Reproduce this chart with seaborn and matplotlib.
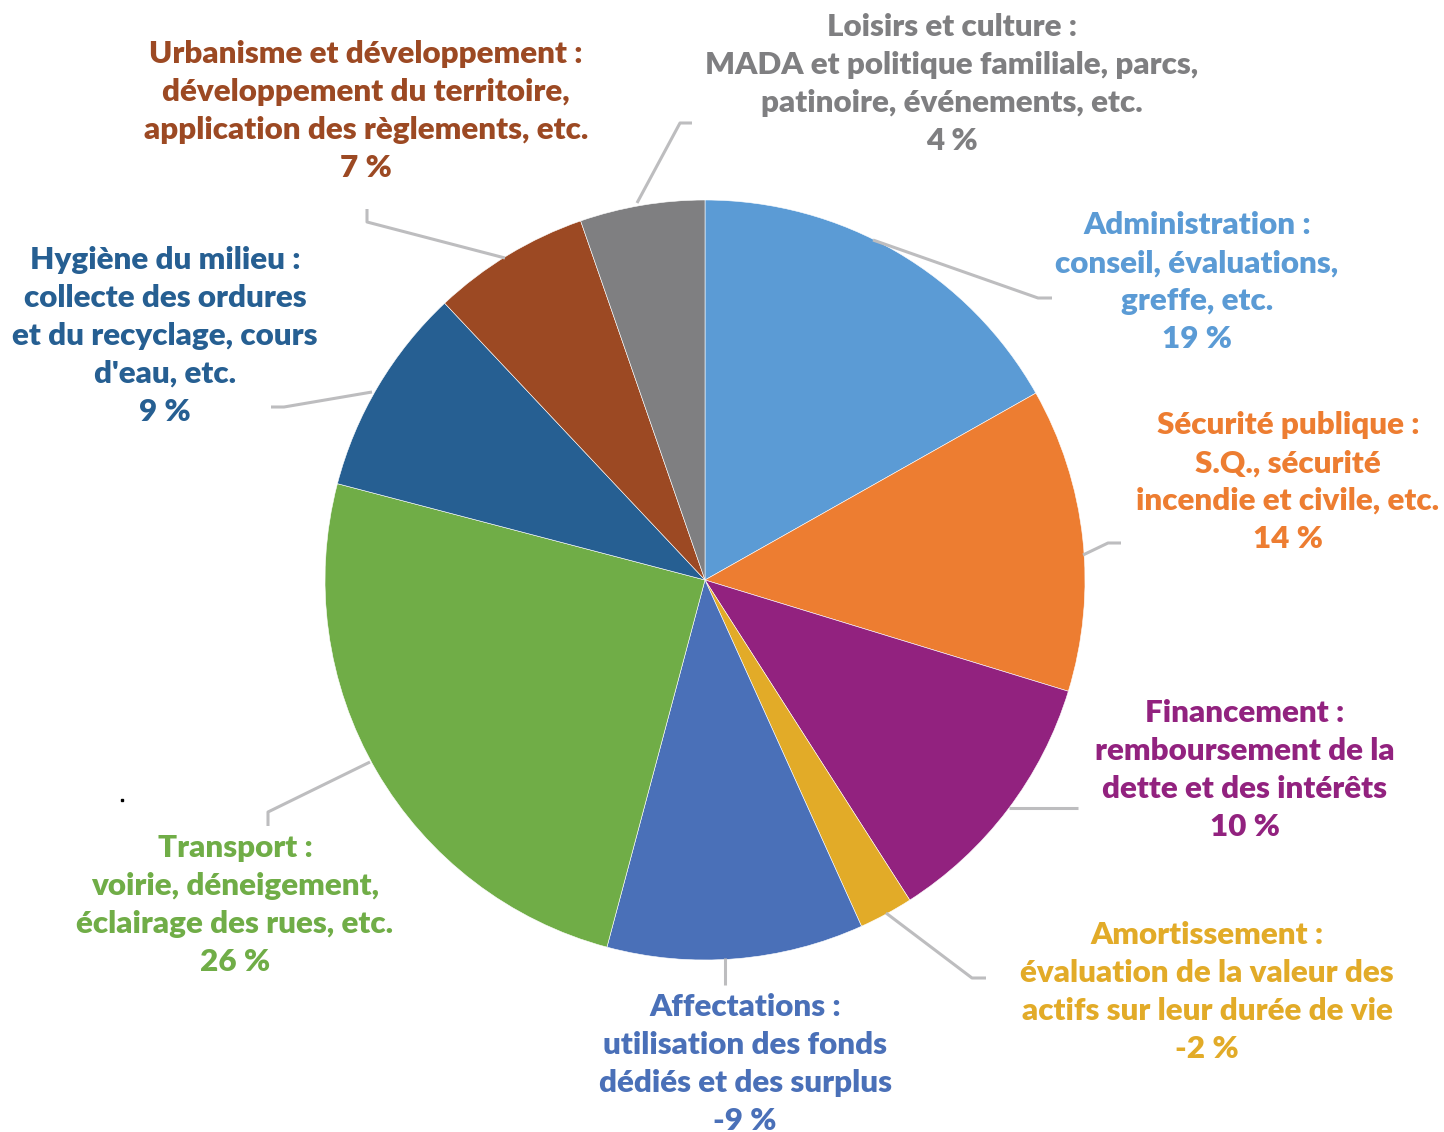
import matplotlib
matplotlib.use("Agg")
import matplotlib.pyplot as plt
import seaborn as sns

# ---- data ----
categories = ["Administration", "Sécurité publique", "Financement", "Amortissement",
              "Affectations", "Transport", "Hygiène du milieu",
              "Urbanisme et développement", "Loisirs et culture"]
slice_sizes = [16.8, 12.9, 11.2, 2.3, 10.9, 24.9, 8.9, 6.7, 5.3]
label_pcts = ["19 %", "14 %", "10 %", "-2 %", "-9 %", "26 %", "9 %", "7 %", "4 %"]
descriptions = [
    "Administration :\nconseil, évaluations,\ngreffe, etc.",
    "Sécurité publique :\nS.Q., sécurité\nincendie et civile, etc.",
    "Financement :\nremboursement de la\ndette et des intérêts",
    "Amortissement :\névaluation de la valeur des\nactifs sur leur durée de vie",
    "Affectations :\nutilisation des fonds\ndédiés et des surplus",
    "Transport :\nvoirie, déneigement,\néclairage des rues, etc.",
    "Hygiène du milieu :\ncollecte des ordures\net du recyclage, cours\nd'eau, etc.",
    "Urbanisme et développement :\ndéveloppement du territoire,\napplication des règlements, etc.",
    "Loisirs et culture :\nMADA et politique familiale, parcs,\npatinoire, événements, etc.",
]
colors = ["#5b9bd5", "#ed7d31", "#92227f", "#e2ab28", "#4a70b8",
          "#70ad47", "#265f92", "#9c4923", "#7f7f81"]
text_colors = ["#5b9bd5", "#ed7d31", "#92227f", "#e2ab28", "#4a70b8",
               "#70ad47", "#265f92", "#9c4923", "#7f7f81"]

# ---- layout (pixels in a 1444x1132 canvas) ----
W, H = 1444, 1132
CX, CY, R = 705, 580, 380

def px(x, y):
    return (x - CX) / R, (CY - y) / R

label_pos = [(1197, 282), (1288, 482), (1245, 770), (1207, 992), (745, 1064),
             (235, 905), (165, 336), (366, 111), (952, 84)]
leaders = [
    [(873, 240), (1038, 298), (1052, 298)],
    [(1083, 555), (1108, 543), (1121, 543)],
    [(1009, 808), (1078, 808)],
    [(886, 913), (972, 978), (986, 978)],
    [(725, 958), (725, 985)],
    [(370, 762), (268, 812), (268, 826)],
    [(372, 392), (284, 407), (271, 407)],
    [(505, 258), (367, 222), (367, 209)],
    [(637, 203), (680, 123), (692, 123)],
]

sns.set_theme(style="white")
plt.rcParams["font.family"] = ["Lato", "DejaVu Sans"]

fig = plt.figure(figsize=(W / 100, H / 100), dpi=100)
ax = fig.add_axes([0, 0, 1, 1])

ax.pie(slice_sizes, colors=colors, startangle=90, counterclock=False, radius=1.0,
       center=(0, 0), frame=True,
       wedgeprops=dict(edgecolor="white", linewidth=0.4))
ax.set_xlim((0 - CX) / R, (W - CX) / R)
ax.set_ylim((CY - H) / R, CY / R)
ax.set_aspect("equal")
ax.axis("off")

for pts in leaders:
    xs, ys = zip(*[px(*p) for p in pts])
    ax.plot(xs, ys, color="#bdbdbf", lw=2.2, solid_capstyle="butt", zorder=1)

for desc, pct, pos, col in zip(descriptions, label_pcts, label_pos, text_colors):
    x, y = px(*pos)
    ax.text(x, y, desc + "\n" + pct, ha="center", va="center", color=col,
            fontsize=22.6, fontweight="heavy", linespacing=1.43)

ax.plot(*px(122, 800), marker="s", ms=1.5, color="black")

fig.savefig("out.png", dpi=100)
